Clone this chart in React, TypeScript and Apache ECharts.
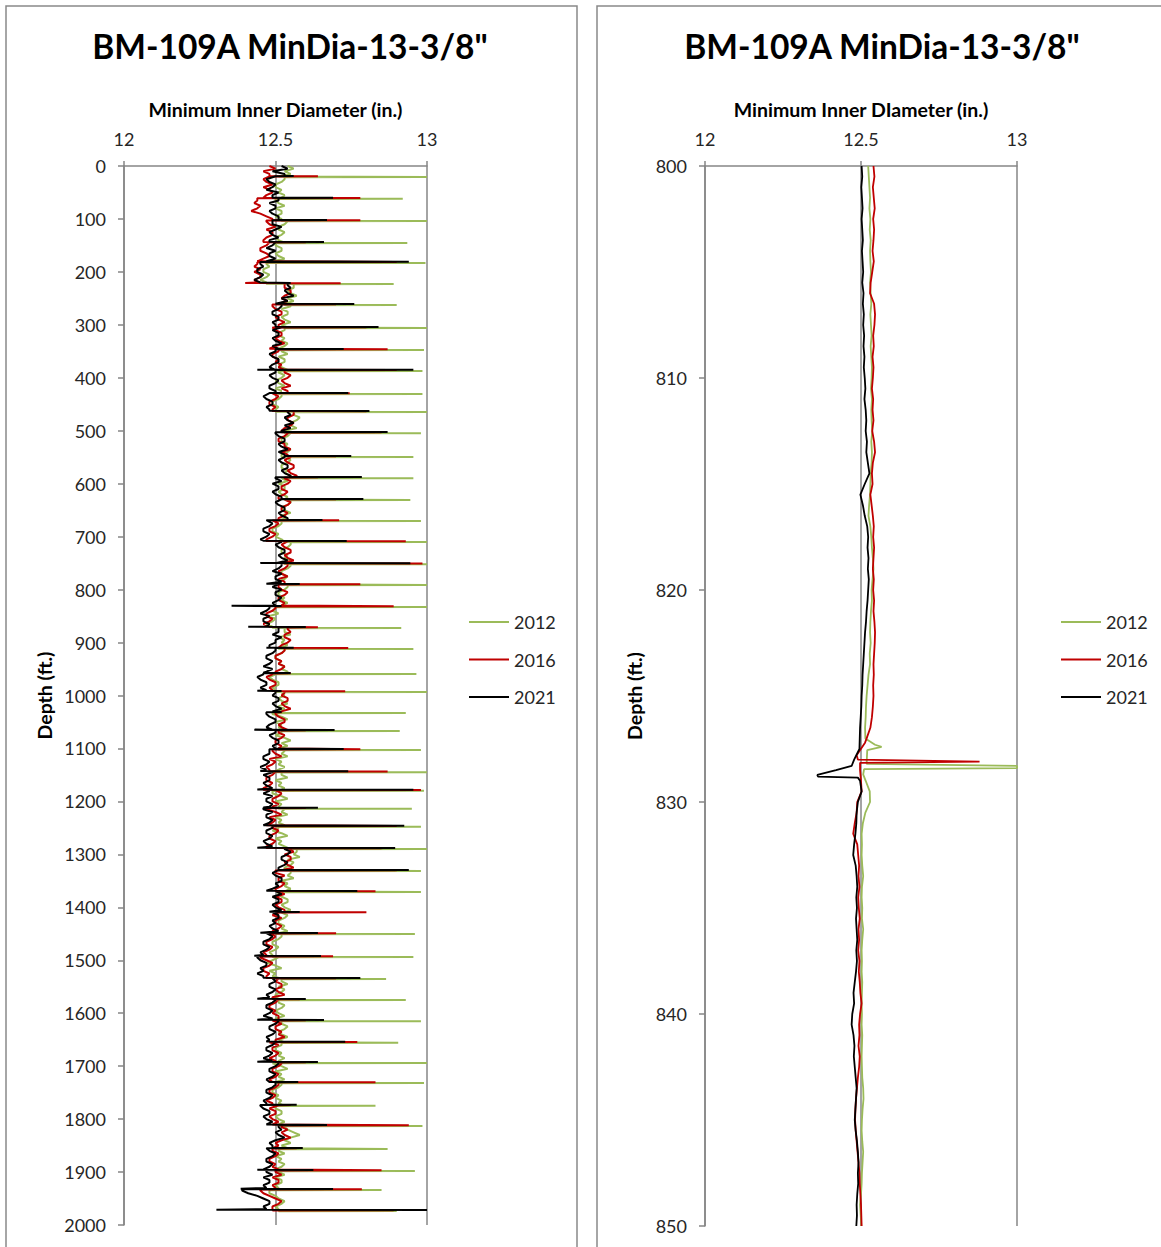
import React, { useEffect, useRef } from "react";
import * as echarts from "echarts";

const TITLE = 'BM-109A MinDia-13-3/8"';
const X_NAME_LEFT = "Minimum Inner Diameter (in.)";
const X_NAME_RIGHT = "Minimum Inner DIameter (in.)";
const Y_NAME = "Depth (ft.)";
const SERIES_NAMES = ["2012", "2016", "2021"];
const COLORS = ["#9BBB59", "#C00000", "#000000"];

// ---------- Left chart (0 - 2000 ft) ----------
// Baseline readings every 5 ft, in hundredths of an inch relative to 12.5 in.
const LEFT_STEP = 5;
const base2021 = [
  2, 4, -1, 3, 0, -3, -2, 0, -1, -3, 1, -1, -1, 1, -2, 0, 0, -2, -1, 1,
  1, -1, -1, 2, 0, -2, -1, 1, -2, 0, -1, -3, 0, -2, -2, 0, -3, -5, -4, -6,
  -6, -4, -5, -7, -5, 4, 5, 3, 4, 6, 2, 4, 0, 2, 1, -1, -1, 1, 1, -1,
  0, 2, -1, 1, 1, -1, 0, 2, -1, 1, 0, -2, -1, 1, 1, -1, -2, 0, 0, -2,
  -1, 1, 0, -2, -2, 0, -2, -4, -3, -1, -1, -3, -2, 4, 5, 3, 4, 6, 3, 5,
  2, 0, 1, 3, 3, 1, 2, 4, 1, 3, 3, 1, 2, 4, 4, 2, 3, 5, 0, 2,
  -1, 1, 1, -1, 0, 2, 2, 0, 1, 3, 3, 1, 2, 4, -3, -1, -2, -4, -4, -2,
  -3, -5, 2, 0, 1, 3, 3, 1, 2, 4, 0, 2, 1, -1, 2, 0, 0, 2, 1, -1,
  2, 0, 0, 2, 1, -1, 0, -2, -3, -5, -2, -4, -4, -2, -3, 1, 1, -1, 2, 0,
  0, -2, -2, 0, -1, -3, -3, -1, -2, -4, -1, -3, -4, -6, -5, -3, -3, -5, -3, 0,
  -1, 1, 1, -1, 0, 2, -1, -3, -2, 0, 0, -2, -3, -1, 0, -2, -1, 1, 1, -1,
  0, -2, -2, -4, -4, -2, -3, -5, -3, -1, -4, -2, -2, -4, -3, -1, -2, -4, -1, -3,
  -3, -1, -2, -4, -1, -3, -3, -1, -2, -4, -1, -3, -3, -1, -2, -4, -3, -1, 3, 5,
  4, 2, 2, 4, 3, 1, 1, -1, 0, 2, 2, 0, 1, -1, 0, 2, -1, 1, 1, -1,
  0, 2, -1, 1, 1, -1, 0, -2, -1, 1, -3, -1, -2, -4, -4, -2, -3, -5, -4, -6,
  -5, -3, -3, -5, -4, -6, -4, -1, 0, -2, -2, 0, -1, -3, -2, 0, -1, -3, -3, -1,
  -2, -4, -1, 1, 0, -2, -2, 0, -1, -3, -2, 0, -1, -3, -3, -1, -2, -4, -1, 1,
  0, -2, -2, 0, -1, -3, -2, 0, -1, -3, -3, -1, -2, -4, -3, -5, -4, -2, -2, -4,
  -3, -1, -3, 1, 2, 0, 1, 3, 0, -2, -1, -3, -2, 0, -1, -3, -3, -1, -2, -4,
  -3, -1, -4, -2, -2, -4, -3, -11, -9, -6, -4, -2, -2, -4, -3,
];
const base2016 = [
  -2, 0, -4, -2, -2, -4, -3, -1, -4, -2, -1, -3, -4, -6, -7, -5, -6, -8, -5, -3,
  -1, -3, -2, 0, -3, -1, -1, -3, -4, -2, -3, -5, -5, -3, -2, -4, -6, -6, -7, -5,
  -7, -5, -5, -7, -6, 3, 3, 5, 5, 3, 2, 4, 1, -1, 0, 2, 2, 0, 1, 3,
  1, -1, 0, 2, 2, 0, 1, 3, 0, -2, 1, -1, -1, 1, 0, 2, 1, 3, 3, 5,
  4, 2, 3, 5, 2, 4, -1, 1, 0, -2, -2, 0, -1, 6, 6, 4, 4, 6, 5, 3,
  2, 4, 3, 1, 1, 3, 3, 5, 2, 4, 5, 3, 4, 6, 6, 4, 5, 7, 3, 5,
  4, 2, 2, 4, 3, 1, 3, 5, 4, 2, 2, 4, 3, 1, -1, 1, 0, -2, -2, 0,
  -1, -3, 4, 2, 3, 5, 5, 3, 4, 6, 2, 4, 3, 1, 2, 4, 1, 3, 3, 1,
  2, 4, 3, 1, 1, 3, 2, 0, -1, -3, -3, -1, -2, -4, -2, 4, 5, 3, 3, 5,
  4, 2, 1, 3, 2, 0, 0, 2, 1, 3, 2, 0, -1, -3, -2, 0, 0, -2, -1, 3,
  2, 4, 4, 2, 3, 5, 2, 0, 1, 3, 3, 1, 2, 4, 1, 3, 2, 0, 0, 2,
  1, -1, 0, 2, -2, 0, -1, -3, -2, 0, -1, -3, -3, -1, -2, -4, 0, 2, 1, -1,
  -1, 1, -1, -3, 0, 2, -2, 0, -1, -3, -1, 1, 0, -2, -2, 0, -1, -3, 4, 6,
  3, 5, 5, 3, 4, 6, 2, 0, 3, 1, 1, 3, 2, 0, 1, 3, 0, 2, 2, 0,
  1, 3, 1, -1, 2, 0, 0, 2, 1, -1, -2, 0, -1, -3, -3, -1, -2, -4, -3, -5,
  -3, -1, -2, -4, -4, -2, -3, 1, 0, 2, 2, 0, 1, 3, -1, 1, 0, -2, -2, 0,
  -1, 1, 1, -1, 2, 0, 0, 2, 1, 3, 0, -2, 1, -1, -1, 1, 0, -2, 0, 2,
  1, -1, -1, 1, 0, -2, -1, 1, 0, -2, -2, 0, -1, -3, -1, 1, -2, 0, 0, -2,
  -1, 1, -1, 2, 4, 2, 3, 5, 2, 0, 1, -1, -1, 1, 0, -2, -2, 0, -1, 1,
  0, 2, -1, 1, 1, -1, 0, -5, -4, -2, 0, 2, 1, -1, -1,
];
const base2012 = [
  4, 6, 3, 5, 1, 3, 2, 0, 0, 2, 1, 3, 2, 0, 1, 3, 0, 2, 2, 0,
  2, 4, 3, 1, 1, 3, 2, 0, 1, 3, 0, 2, 2, 0, 1, 3, -1, -3, -2, -4,
  -4, -2, -3, -5, -3, 6, 6, 4, 5, 7, 4, 6, 3, 5, 2, 4, 4, 2, 3, 5,
  2, 4, 3, 1, 1, 3, 2, 4, 3, 1, 2, 4, 1, 3, 3, 1, 2, 4, 1, 3,
  2, 0, 1, 3, 0, 2, 0, 2, 1, -1, -1, 1, 0, 6, 6, 8, 7, 5, 5, 7,
  3, 5, 4, 2, 2, 4, 3, 5, 4, 2, 3, 5, 4, 2, 2, 4, 3, 5, 2, 4,
  1, 3, 3, 1, 2, 4, 3, 5, 4, 2, 3, 5, 2, 4, 0, 2, 1, -1, -1, 1,
  0, 2, 3, 5, 4, 2, 2, 4, 3, 5, 3, 5, 4, 2, 2, 4, 3, 1, 2, 4,
  3, 1, 1, 3, 2, 4, 2, 0, -1, 1, -2, 0, -1, -3, -1, 3, 3, 5, 1, 3,
  2, 4, 1, 3, 2, 0, 0, 2, 1, 3, 2, 4, 0, -2, -1, 1, 1, -1, 0, 2,
  3, 1, 2, 4, 1, 3, 1, -1, 2, 4, 0, 2, 1, 3, 2, 0, 3, 5, 2, 4,
  1, 3, 2, 4, 0, 2, 1, 3, 1, -1, 2, 4, 0, 2, 1, 3, 1, -1, 2, 4,
  0, 2, 1, 3, 2, 4, 0, 2, 1, 3, 1, -1, 2, 4, 0, 2, 1, 3, 5, 7,
  6, 8, 4, 6, 5, 3, 3, 5, 4, 6, 2, 4, 3, 5, 3, 1, 2, 4, 4, 2,
  3, 5, 2, 4, 3, 1, 1, 3, 2, 4, 0, 2, 1, -1, -1, 1, 0, -2, -1, 1,
  -1, -3, 0, 2, -2, 0, -1, 2, 2, 4, 1, 3, 2, 0, 0, 2, 1, 3, 2, 0,
  1, 3, 0, 2, 2, 4, 3, 1, 2, 4, 1, 3, 2, 0, 0, 2, 1, 3, 1, -1,
  2, 4, 0, 2, 1, 3, 0, 2, 1, -1, -1, 1, 0, 2, 1, 3, 0, 2, 2, 0,
  1, 3, 1, 3, 4, 6, 8, 5, 3, 5, 2, 4, 1, 3, 0, 2, 1, 3, 2, 0,
  1, 3, 0, 2, 2, 0, 1, -2, -2, 0, 1, 3, 2, 0, 1,
];

// Casing collar (joint) depths, ft
const JOINTS = [
  19, 60, 102, 143.5, 181, 221, 260.5, 304, 345.5, 385,
  428.5, 462.5, 502.5, 547.5, 587.5, 629, 668.5, 708, 750, 789.5,
  831, 870.5, 910, 957.5, 991.5, 1031, 1065, 1101, 1143, 1178,
  1212, 1246, 1288, 1329.5, 1369, 1409, 1448.5, 1492, 1533.5, 1573,
  1613, 1654, 1692, 1730, 1773, 1811, 1854.5, 1896, 1932, 1971.5,
];
// Reading at each joint, in.
const peak2021 = [
  12.56, 12.69, 12.67, 12.66, 12.94, 12.55, 12.76, 12.84, 12.725, 12.955,
  12.74, 12.81, 12.87, 12.75, 12.785, 12.79, 12.655, 12.735, 12.945, 12.58,
  12.52, 12.6, 12.56, 12.55, 12.52, 12.52, 12.695, 12.725, 12.74, 12.955,
  12.64, 12.925, 12.895, 12.94, 12.77, 12.58, 12.64, 12.65, 12.78, 12.6,
  12.66, 12.73, 12.64, 12.575, 12.57, 12.67, 12.59, 12.625, 12.69, 13.0,
];
const low2021 = [
  null, null, null, null, null, null, null, null, null, 12.44,
  null, null, null, null, null, null, null, 12.46, 12.45, 12.47,
  12.355, 12.41, 12.47, 12.46, 12.44, null, 12.43, null, 12.45, 12.44,
  12.46, 12.46, 12.44, null, 12.47, 12.48, 12.45, 12.43, null, 12.44,
  12.44, 12.47, 12.44, null, null, null, null, 12.44, 12.385, 12.305,
];
const peak2016 = [
  12.64, 12.78, 12.78, 12.6, 12.9, 12.715, 12.7, 12.8, 12.87, 12.9,
  12.745, 12.8, 12.85, 12.7, 12.64, 12.7, 12.71, 12.93, 12.985, 12.78,
  12.89, 12.64, 12.74, 12.55, 12.73, 12.52, 12.6, 12.78, 12.87, 12.98,
  12.6, 12.9, 12.85, 12.9, 12.83, 12.8, 12.7, 12.69, 12.7, 12.58,
  12.6, 12.77, 12.6, 12.83, 12.55, 12.94, 12.57, 12.85, 12.785, 12.89,
];
const low2016 = [
  null, null, null, null, null, 12.4, null, null, null, null,
  null, null, null, null, null, null, null, null, null, null,
  null, null, null, null, null, null, null, null, null, null,
  null, null, null, null, null, null, null, null, null, null,
  null, null, null, null, null, null, null, null, null, null,
];
const peak2012 = [
  13.0, 12.92, 13.0, 12.935, 12.995, 12.89, 12.9, 13.0, 12.99, 12.985,
  12.985, 13.0, 12.98, 12.955, 12.955, 12.945, 12.98, 13.0, 13.0, 13.0,
  13.0, 12.915, 12.955, 12.965, 13.0, 12.93, 12.91, 12.98, 13.0, 12.99,
  12.95, 12.98, 13.0, 12.98, 12.98, null, 12.96, 12.955, 12.865, 12.93,
  12.98, 12.905, 13.0, 12.99, 12.83, 12.985, 12.87, 12.96, 12.85, 12.9,
];
const low2012 = JOINTS.map(() => null);

// ---------- Right chart (800 - 850 ft) ----------
// Readings every 0.5 ft, in thousandths of an inch relative to 12.5 in.
const RIGHT_START = 800;
const RIGHT_STEP = 0.5;
const right2021 = [
  2, 4, 1, 3, 5, 2, 4, 6, 3, 5,
  7, 4, 8, 6, 9, 7, 10, 8, 11, 9,
  12, 14, 11, 15, 17, 15, 19, 17, 22, 27,
  12, -2, 6, 12, 20, 23, 21, 24, 22, 25,
  23, 21, 18, 16, 13, 11, 9, 7, 5, 4,
  2, 1, -1, -3, -4, -5, -22, -8, -3, 2,
  -10, -14, -15, -18, -22, -25, -17, -14, -12, -15,
  -13, -16, -14, -12, -15, -13, -16, -20, -24, -22,
  -28, -30, -24, -21, -23, -20, -17, -14, -16, -18,
  -20, -17, -13, -10, -8, -10, -9, -12, -14, -13, -15,
];
const right2016 = [
  40, 43, 38, 41, 44, 39, 42, 40, 37, 41,
  36, 31, 29, 42, 45, 43, 39, 41, 37, 40,
  38, 35, 39, 37, 40, 36, 42, 45, 38, 35,
  37, 30, 34, 38, 41, 39, 42, 40, 38, 41,
  39, 42, 40, 43, 45, 44, 42, 40, 41, 39,
  40, 38, 35, 30, 18, 5, -10, -3, 0, 2,
  -12, -14, -20, -25, -12, -9, -6, -8, -5, -9,
  -7, -4, -8, -6, -9, -5, -7, -4, -2, 2,
  -3, -6, -5, -8, -4, -6, -10, -13, -16, -18,
  -19, -17, -14, -11, -8, -5, -4, -2, 0, 1, 2,
];
const right2012 = [
  23, 25, 27, 29, 27, 30, 28, 31, 29, 30,
  32, 29, 31, 33, 30, 32, 34, 31, 33, 35,
  34, 32, 35, 33, 34, 36, 33, 35, 34, 31,
  30, 29, 26, 24, 30, 33, 35, 38, 40, 37,
  34, 35, 32, 30, 29, 31, 28, 29, 24, 21,
  18, 16, 15, 13, 14, 20, 16, 8, 15, 28,
  29, 14, 6, 2, 3, 2, 4, 7, 3, 2,
  4, 3, 7, 4, 2, 3, 2, 4, 3, 2,
  3, 2, 4, 3, 2, 3, 4, 7, 8, 5,
  3, 2, 4, 7, 5, 3, 2, 0, -3, -1, 1,
];
// Detail around the collar at ~828 ft: [depth, in.]
const feat2012 = [
  [827.3, 12.545], [827.4, 12.566], [827.55, 12.52], [828.2, 12.518],
  [828.3, 13.0], [828.4, 13.0], [828.45, 12.51], [828.7, 12.507],
];
const feat2016 = [
  [827.2, 12.513], [827.8, 12.486], [828.0, 12.49], [828.1, 12.88],
  [828.15, 12.497], [828.4, 12.497],
];
const feat2021 = [
  [828.0, 12.478], [828.3, 12.47], [828.5, 12.42], [828.72, 12.36],
  [828.8, 12.362], [828.85, 12.49], [829.0, 12.497],
];

function buildLeft(base: number[], peaks: (number | null)[], lows: (number | null)[], shift: number) {
  const pts: number[][] = [];
  let j = 0;
  for (let i = 0; i < base.length; i++) {
    const d = i * LEFT_STEP;
    const v = 12.5 + base[i] / 100;
    const vNext = i + 1 < base.length ? 12.5 + base[i + 1] / 100 : v;
    pts.push([v, d]);
    const next = i + 1 < base.length ? d + LEFT_STEP : Infinity;
    while (j < JOINTS.length && JOINTS[j] + shift < next) {
      const jd = JOINTS[j] + shift;
      const pk = peaks[j];
      if (pk != null) {
        const lo = lows[j];
        pts.push([lo != null ? lo : v, jd - 0.4], [pk, jd], [vNext, jd + 0.4]);
      }
      j++;
    }
  }
  return pts;
}

function buildRight(base: number[], feat: number[][]) {
  const lo = feat[0][0];
  const hi = feat[feat.length - 1][0];
  const pts = base
    .map((t, i) => [12.5 + t / 1000, RIGHT_START + i * RIGHT_STEP])
    .filter((p) => p[1] < lo || p[1] > hi);
  feat.forEach((f) => pts.push([f[1], f[0]]));
  pts.sort((a, b) => a[1] - b[1]);
  return pts;
}

const FONT = "Lato, 'Noto Sans', sans-serif";

export default function App() {
  const ref = useRef<HTMLDivElement>(null);
  useEffect(() => {
    if (!ref.current) return;
    const chart = echarts.init(ref.current, undefined, { renderer: "svg" });

    const leftData = [
      buildLeft(base2012, peak2012, low2012, 2),
      buildLeft(base2016, peak2016, low2016, 0.5),
      buildLeft(base2021, peak2021, low2021, 0),
    ];
    const rightData = [
      buildRight(right2012, feat2012),
      buildRight(right2016, feat2016),
      buildRight(right2021, feat2021),
    ];

    const axisGray = "#868686";
    const labelStyle = { fontFamily: FONT, fontSize: 18, color: "#262626" };
    const nameStyle = { fontFamily: FONT, fontSize: 19.5, fontWeight: "bold" as const, color: "#000" };

    const xAxisBase = (gridIndex: number, name: string) => ({
      type: "value" as const,
      gridIndex,
      position: "top" as const,
      min: 12,
      max: 13,
      interval: 0.5,
      name,
      nameLocation: "middle" as const,
      nameGap: 47,
      nameTextStyle: nameStyle,
      axisLine: { show: true, lineStyle: { color: axisGray, width: 1.5 } },
      axisTick: { show: true, length: 5, lineStyle: { color: axisGray, width: 1.5 } },
      axisLabel: { ...labelStyle, margin: 18, formatter: (v: number) => String(v) },
      splitLine: { show: true, lineStyle: { color: axisGray, width: 1.5 } },
    });

    const yAxisBase = (gridIndex: number, min: number, max: number, interval: number, nameGap: number) => ({
      type: "value" as const,
      gridIndex,
      inverse: true,
      min,
      max,
      interval,
      name: Y_NAME,
      nameLocation: "middle" as const,
      nameGap,
      nameRotate: 90,
      nameTextStyle: nameStyle,
      axisLine: { show: true, onZero: false, lineStyle: { color: axisGray, width: 1.5 } },
      axisTick: { show: true, length: 6, lineStyle: { color: axisGray, width: 1.5 } },
      axisLabel: { ...labelStyle, margin: 18, formatter: (v: number) => String(v) },
      splitLine: { show: false },
    });

    const legendBase = (left: number) => ({
      left,
      top: 612,
      padding: 0,
      orient: "vertical" as const,
      data: SERIES_NAMES,
      icon: "rect",
      itemWidth: 40,
      itemHeight: 2,
      itemGap: 17.5,
      selectedMode: false,
      textStyle: { fontFamily: FONT, fontSize: 18, color: "#262626", lineHeight: 20 },
    });

    const series: any[] = [];
    SERIES_NAMES.forEach((name, k) => {
      series.push({
        name,
        type: "line",
        xAxisIndex: 0,
        yAxisIndex: 0,
        data: leftData[k],
        symbol: "none",
        showSymbol: false,
        color: COLORS[k],
        lineStyle: { color: COLORS[k], width: 2 },
        silent: true,
        z: 2 + k,
      });
    });
    SERIES_NAMES.forEach((name, k) => {
      series.push({
        name,
        type: "line",
        xAxisIndex: 1,
        yAxisIndex: 1,
        data: rightData[k],
        symbol: "none",
        showSymbol: false,
        color: COLORS[k],
        lineStyle: { color: COLORS[k], width: 1.8 },
        silent: true,
        z: 2 + k,
      });
    });

    const titleStyle = { fontFamily: FONT, fontSize: 33.5, fontWeight: "bold" as const, color: "#000" };

    chart.setOption({
      animation: false,
      backgroundColor: "#ffffff",
      title: [
        { text: TITLE, left: 285, top: 24, textAlign: "center", textStyle: titleStyle },
        { text: TITLE, left: 877, top: 24, textAlign: "center", textStyle: titleStyle },
      ],
      legend: [legendBase(469), legendBase(1061)],
      grid: [
        { left: 124, top: 166, width: 303, height: 1059, containLabel: false },
        { left: 705, top: 166, width: 312, height: 1060, containLabel: false },
      ],
      xAxis: [xAxisBase(0, X_NAME_LEFT), xAxisBase(1, X_NAME_RIGHT)],
      yAxis: [yAxisBase(0, 0, 2000, 100, 70), yAxisBase(1, 800, 850, 10, 61)],
      series,
      graphic: [
        {
          type: "rect",
          shape: { x: 6, y: 6, width: 571, height: 1270 },
          style: { fill: "none", stroke: "#898989", lineWidth: 1.5 },
          silent: true,
        },
        {
          type: "rect",
          shape: { x: 597, y: 6, width: 590, height: 1270 },
          style: { fill: "none", stroke: "#898989", lineWidth: 1.5 },
          silent: true,
        },
      ],
    });
    return () => chart.dispose();
  }, []);

  return (
    <div
      ref={ref}
      style={{ position: "fixed", left: 0, top: 0, width: 1161, height: 1247, background: "#fff" }}
    />
  );
}
